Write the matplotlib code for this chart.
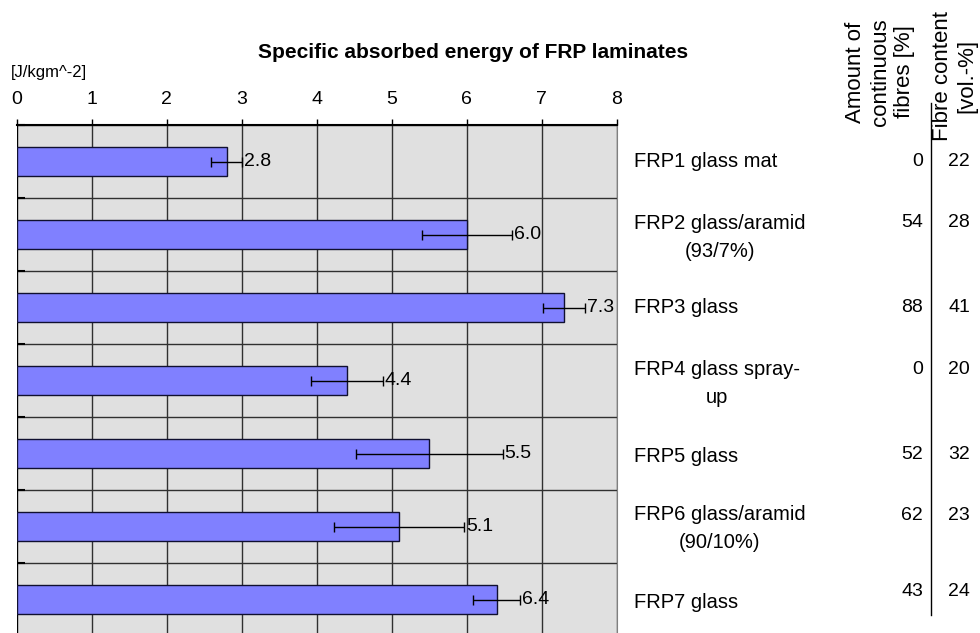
import matplotlib
matplotlib.use("Agg")
import matplotlib.pyplot as plt
from matplotlib.lines import Line2D

plt.rcParams['font.family'] = ['Liberation Sans', 'DejaVu Sans']

# Laminate data
labels = ["FRP1 glass mat", "FRP2 glass/aramid\n(93/7%)", "FRP3 glass",
          "FRP4 glass spray-\nup", "FRP5 glass", "FRP6 glass/aramid\n(90/10%)",
          "FRP7 glass"]
energy = [2.8, 6.0, 7.3, 4.4, 5.5, 5.1, 6.4]
energy_err = [0.21, 0.60, 0.28, 0.48, 0.98, 0.87, 0.31]
continuous = [0, 54, 88, 0, 52, 62, 43]
fibre_content = [22, 28, 41, 20, 32, 23, 24]

# pixel nudges for the side table (label block, numbers)
label_dy = [0, 3, 0, 3, 3, 2, 3]
num_dy = [0, -12, 0, -11, 1, -11, -8]

W, H = 980, 633
fig = plt.figure(figsize=(W / 100, H / 100), dpi=100)
ax = fig.add_axes([16.7 / W, 0, 600 / W, 1 - 125 / H])

bar_col = "#8080FF"
ypos = list(range(len(energy)))

ax.set_facecolor("#E0E0E0")
ax.barh(ypos, energy, height=0.41, color=bar_col, edgecolor="#101030",
        linewidth=1, zorder=3)
ax.errorbar(energy, ypos, xerr=energy_err, fmt="none", ecolor="black",
            elinewidth=1, capsize=3.6, capthick=1, zorder=4)
for y, v, e in zip(ypos, energy, energy_err):
    ax.annotate(f"{v:.1f}", xy=(v + e, y), xytext=(2, 0),
                textcoords="offset pixels", ha="left", va="center",
                fontsize=14, zorder=5)

ax.set_xlim(0, 8)
ax.set_ylim(-0.5 + (H - 125) / 73, -0.5)
ax.xaxis.tick_top()
ax.set_xticks(range(9))
ax.tick_params(axis="x", which="major", direction="out", length=4,
               width=1, pad=8, labelsize=14)
ax.set_yticks([y + 0.5 for y in ypos[:-1]] + [-0.5])
ax.set_yticklabels([])
ax.tick_params(axis="y", direction="in", length=6, width=1.5)
ax.grid(True, color="#303030", linewidth=1, zorder=1)
ax.set_axisbelow(True)

for side in ["left", "bottom"]:
    ax.spines[side].set_visible(False)
ax.spines["top"].set_linewidth(1.5)
ax.spines["right"].set_color("#808080")
ax.axvline(0, color="black", linewidth=1.5, zorder=2)

# titles
fig.text(473 / W, 1 - 53 / H, "Specific absorbed energy of FRP laminates",
         ha="center", va="center", fontsize=15, fontweight="bold")
fig.text(11 / W, 1 - 72 / H, "[J/kgm^-2]", ha="left", va="center", fontsize=12)

# side table
for i in ypos:
    ax.annotate(labels[i], xy=(634 / W, i), xycoords=("figure fraction", "data"),
                xytext=(0, -label_dy[i]), textcoords="offset pixels",
                ha="left", va="center", multialignment="center",
                fontsize=14.5, linespacing=1.55, annotation_clip=False)
    ax.annotate(str(continuous[i]), xy=(923 / W, i),
                xycoords=("figure fraction", "data"),
                xytext=(0, -num_dy[i]), textcoords="offset pixels",
                ha="right", va="center", fontsize=14, annotation_clip=False)
    ax.annotate(str(fibre_content[i]), xy=(970 / W, i),
                xycoords=("figure fraction", "data"),
                xytext=(0, -num_dy[i]), textcoords="offset pixels",
                ha="right", va="center", fontsize=14, annotation_clip=False)

fig.text(880 / W, 1 - 72 / H, "Amount of\ncontinuous\nfibres [%]",
         rotation=90, ha="center", va="center", multialignment="center",
         fontsize=16, linespacing=1.2)
fig.text(955 / W, 1 - 76 / H, "Fibre content\n[vol.-%]",
         rotation=90, ha="center", va="center", multialignment="center",
         fontsize=16, linespacing=1.2)
fig.add_artist(Line2D([931 / W, 931 / W], [1 - 103 / H, 1 - 615 / H],
                      color="black", linewidth=1))

fig.savefig("out.png", dpi=100)
